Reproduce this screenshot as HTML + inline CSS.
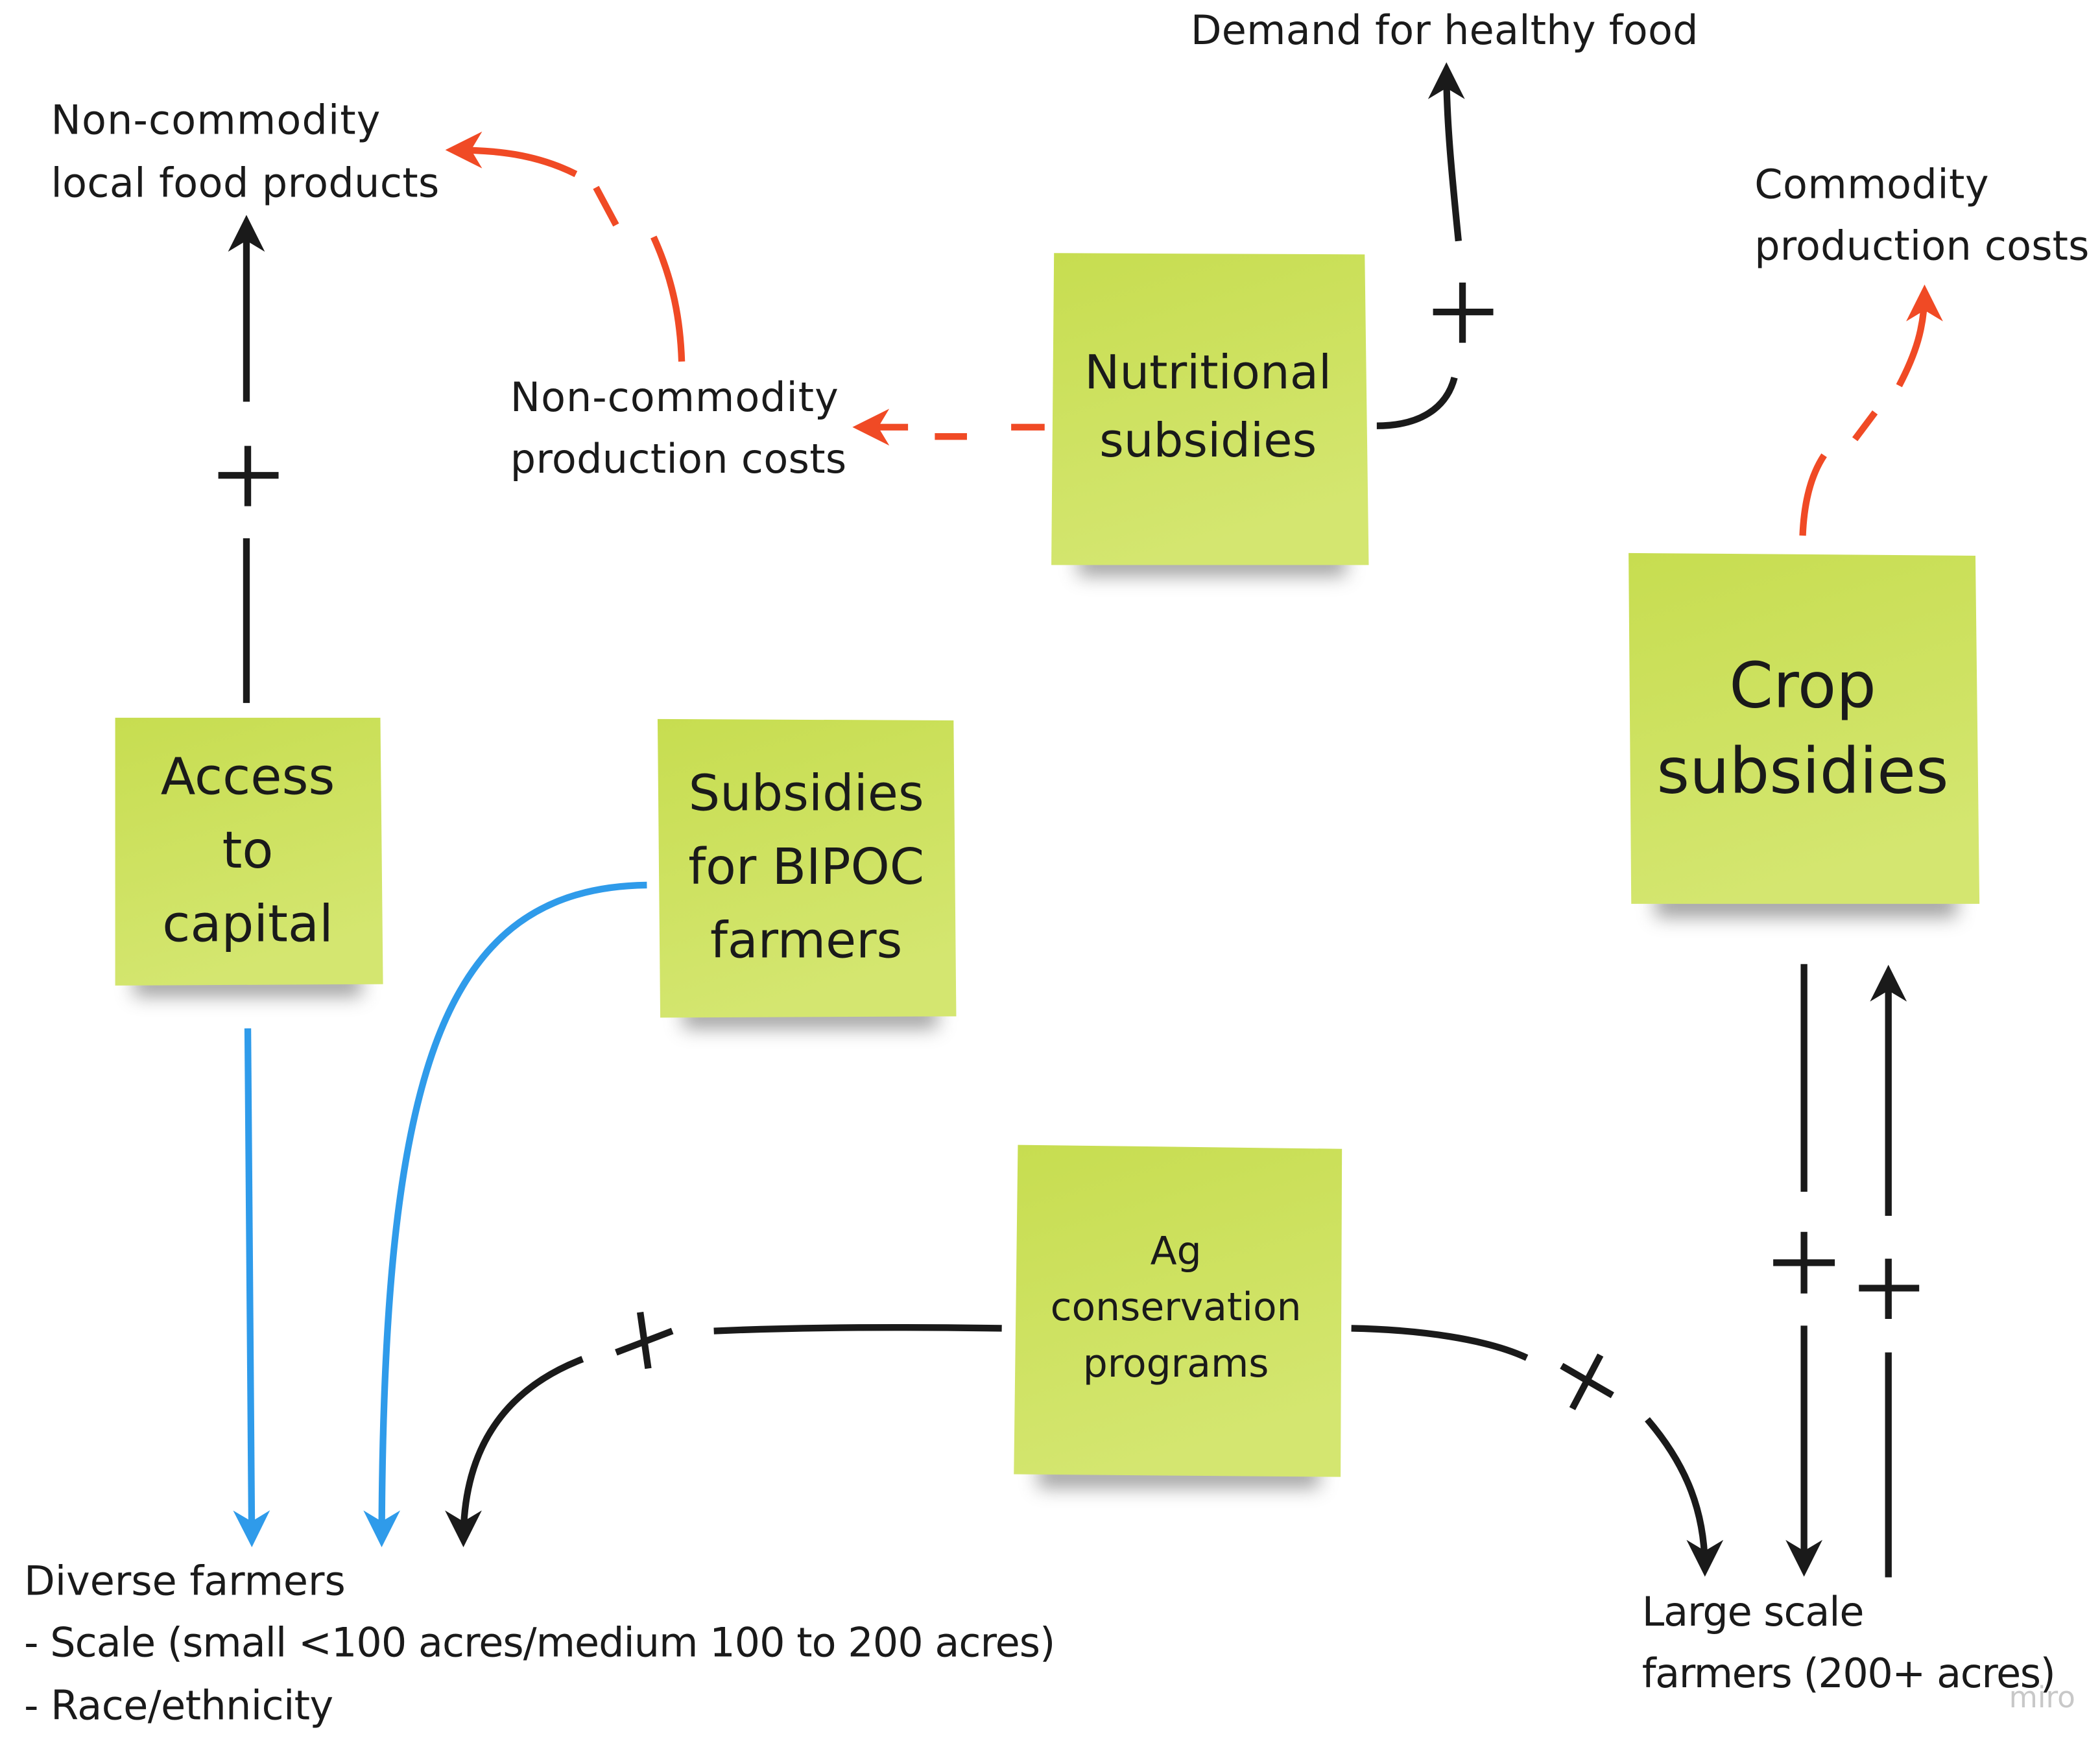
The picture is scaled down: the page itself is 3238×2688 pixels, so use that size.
<!DOCTYPE html>
<html><head><meta charset="utf-8"><style>
html,body{margin:0;padding:0;background:#fff;width:3238px;height:2688px;overflow:hidden}
svg{display:block}
text{font-family:"DejaVu Sans","Liberation Sans",sans-serif;fill:#1a1a1a}
</style></head><body>
<svg width="3238" height="2688" viewBox="0 0 1568 1301.7" preserveAspectRatio="none" xmlns="http://www.w3.org/2000/svg">
<defs>
<linearGradient id="g" x1="0" y1="0" x2="0.3" y2="1"><stop offset="0" stop-color="#c7dd50"/><stop offset="1" stop-color="#d4e670"/></linearGradient>
<filter id="sh" x="-20%" y="-20%" width="140%" height="160%"><feGaussianBlur stdDeviation="7"/></filter>
<marker id="ab" viewBox="0 0 10 10" refX="8" refY="5" markerWidth="5.5" markerHeight="5.5" orient="auto"><path d="M0,0 L10,5 L0,10 L3,5z" fill="#1a1a1a"/></marker>
<marker id="ao" viewBox="0 0 10 10" refX="8" refY="5" markerWidth="5.5" markerHeight="5.5" orient="auto"><path d="M0,0 L10,5 L0,10 L3,5z" fill="#f04a25"/></marker>
<marker id="au" viewBox="0 0 10 10" refX="8" refY="5" markerWidth="5.5" markerHeight="5.5" orient="auto"><path d="M0,0 L10,5 L0,10 L3,5z" fill="#2f9bea"/></marker>
</defs>

<g fill="#555" opacity="0.55" filter="url(#sh)">
<rect x="805" y="412" width="200" height="18"/>
<rect x="1236" y="665" width="225" height="20"/>
<rect x="100" y="726" width="170" height="18"/>
<rect x="510" y="750" width="190" height="18"/>
<rect x="775" y="1093" width="210" height="18"/>
</g>
<path d="M787,189 L1019,190 L1022,422 L785,422z" fill="url(#g)"/>
<path d="M1216,413 L1475,415 L1478,675 L1218,675z" fill="url(#g)"/>
<path d="M86,536 L284,536 L286,735 L86,736z" fill="url(#g)"/>
<path d="M491,537 L712,538 L714,759 L493,760z" fill="url(#g)"/>
<path d="M760,855 L1002,858 L1001,1103 L757,1101z" fill="url(#g)"/>

<g text-anchor="middle">
<text x="902" y="290" font-size="35">Nutritional</text>
<text x="902" y="341" font-size="35">subsidies</text>
<text x="1346" y="528" font-size="47">Crop</text>
<text x="1346" y="592" font-size="47">subsidies</text>
<text x="185" y="593" font-size="38">Access</text>
<text x="185" y="648" font-size="38">to</text>
<text x="185" y="703" font-size="38">capital</text>
<text x="602" y="605" font-size="37">Subsidies</text>
<text x="602" y="660" font-size="37">for BIPOC</text>
<text x="602" y="715" font-size="37">farmers</text>
<text x="878" y="944" font-size="29">Ag</text>
<text x="878" y="986" font-size="29">conservation</text>
<text x="878" y="1028" font-size="29">programs</text>
</g>

<g font-size="30">
<text x="38" y="100" textLength="246">Non-commodity</text>
<text x="38" y="147" textLength="290">local food products</text>
<text x="381" y="307" textLength="245">Non-commodity</text>
<text x="381" y="353" textLength="251">production costs</text>
<text x="889" y="33" textLength="379">Demand for healthy food</text>
<text x="1310" y="148" textLength="175">Commodity</text>
<text x="1310" y="194" textLength="250">production costs</text>
<text x="18" y="1191" textLength="240">Diverse farmers</text>
<text x="18" y="1237" textLength="770">- Scale (small &lt;100 acres/medium 100 to 200 acres)</text>
<text x="18" y="1284" textLength="231">- Race/ethnicity</text>
<text x="1226" y="1214" textLength="166">Large scale</text>
<text x="1226" y="1260" textLength="309">farmers (200+ acres)</text>
</g>
<text x="1500" y="1275" font-size="22" style="fill:#c8c8c8">miro</text>

<g stroke="#1a1a1a" stroke-width="5" fill="none">
<line x1="184" y1="525" x2="184" y2="402"/>
<line x1="184" y1="300" x2="184" y2="166" marker-end="url(#ab)"/>
<path d="M163,355 H208 M185,333 V378"/>
<path d="M1028,318 C1060,318 1080,305 1086,282"/>
<path d="M1070,233 H1115 M1092,211 V256"/>
<path d="M1089,180 C1084,130 1080,90 1080,52" marker-end="url(#ab)"/>
<path d="M748,992 C680,991 600,991 533,994"/>
<path d="M460,1010 L502,994 M478,980 L484,1022"/>
<path d="M435,1015 C370,1040 346,1090 346,1150" marker-end="url(#ab)"/>
<path d="M1009,992 C1060,993 1110,1000 1140,1014"/>
<path d="M1166,1020 L1204,1042 M1195,1012 L1174,1052"/>
<path d="M1230,1060 C1260,1095 1273,1130 1273,1172" marker-end="url(#ab)"/>
<line x1="1347" y1="720" x2="1347" y2="890"/>
<path d="M1324,943 H1370 M1347,920 V966"/>
<line x1="1347" y1="990" x2="1347" y2="1172" marker-end="url(#ab)"/>
<line x1="1410" y1="1178" x2="1410" y2="1010"/>
<path d="M1388,962 H1433 M1410,940 V985"/>
<line x1="1410" y1="908" x2="1410" y2="726" marker-end="url(#ab)"/>
</g>

<g stroke="#f04a25" stroke-width="5" fill="none">
<line x1="780" y1="319" x2="755" y2="319"/>
<line x1="722" y1="326" x2="698" y2="326"/>
<line x1="678" y1="319" x2="642" y2="319" marker-end="url(#ao)"/>
<path d="M509,270 C508,240 503,210 488,177"/>
<path d="M460,168 L445,140"/>
<path d="M430,130 C400,115 370,112 338,112" marker-end="url(#ao)"/>
<path d="M1346,400 C1347,375 1352,355 1362,340"/>
<path d="M1385,328 L1400,308"/>
<path d="M1418,288 C1430,265 1437,245 1437,218" marker-end="url(#ao)"/>
</g>

<g stroke="#2f9bea" stroke-width="5" fill="none">
<path d="M185,768 L188,1150" marker-end="url(#au)"/>
<path d="M483,661 C330,663 286,800 285,1150" marker-end="url(#au)"/>
</g>
</svg>
</body></html>
